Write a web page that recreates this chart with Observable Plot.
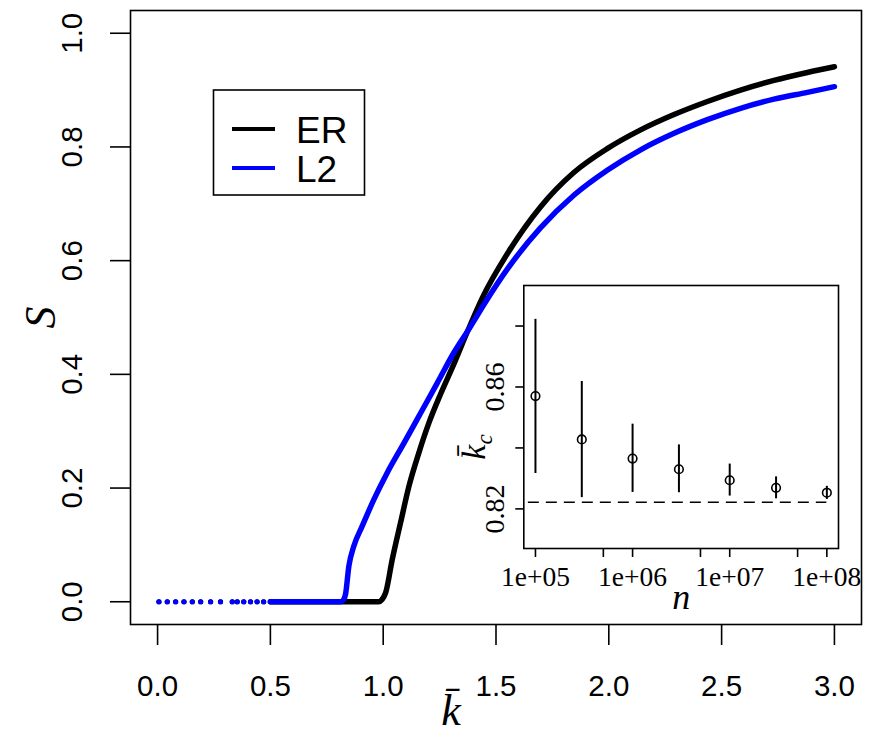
<!DOCTYPE html>
<html><head><meta charset="utf-8">
<script src="https://cdn.jsdelivr.net/npm/d3@7"></script>
<script src="https://cdn.jsdelivr.net/npm/@observablehq/plot@0.6"></script>
<style>
html,body{margin:0;padding:0;background:#fff;}
#wrap{position:relative;width:869px;height:733px;overflow:hidden;}
#wrap > svg{position:absolute;}
</style></head><body><div id="wrap"></div>
<script>
// ---- main chart data ----
const kER = [0.5, 0.98, 0.995, 1.011, 1.04, 1.077, 1.114, 1.158, 1.203, 1.254, 1.313, 1.373, 1.44, 1.55, 1.698, 1.845, 1.993, 2.141, 2.289, 2.437, 2.584, 2.732, 2.88, 3.0];
const sER = [0, 0, 0.004, 0.016, 0.074, 0.139, 0.203, 0.262, 0.315, 0.365, 0.418, 0.475, 0.535, 0.612, 0.695, 0.755, 0.797, 0.83, 0.857, 0.88, 0.9, 0.917, 0.931, 0.941];
const kL2 = [0.5, 0.811, 0.825, 0.833, 0.848, 0.87, 0.907, 0.959, 1.018, 1.092, 1.166, 1.24, 1.313, 1.387, 1.45, 1.55, 1.698, 1.845, 1.993, 2.141, 2.289, 2.437, 2.584, 2.732, 2.88, 3.0];
const sL2 = [0, 0, 0.004, 0.013, 0.063, 0.098, 0.133, 0.18, 0.227, 0.279, 0.332, 0.385, 0.438, 0.484, 0.525, 0.585, 0.658, 0.715, 0.759, 0.795, 0.824, 0.848, 0.868, 0.884, 0.896, 0.906];
const kFlat = [0.006, 0.043, 0.08, 0.117, 0.154, 0.191, 0.235, 0.279, 0.331, 0.353, 0.382, 0.412, 0.441, 0.47];
const sFlat = 0;
const seriesNames = ["ER", "L2"];
const seriesColors = ["black", "blue"];
const xTicks = [0, 0.5, 1, 1.5, 2, 2.5, 3];
const yTicks = [0, 0.2, 0.4, 0.6, 0.8, 1.0];
const kDomain = [-0.12, 3.12];
const sDomain = [-0.04, 1.04];

// ---- inset data ----
const nSizes = [1e5, 3e5, 1e6, 3e6, 1e7, 3e7, 1e8];
const kcMean = [0.857, 0.8428, 0.8365, 0.8330, 0.8294, 0.8269, 0.8253];
const kcLow  = [0.8316, 0.8237, 0.8254, 0.8253, 0.8242, 0.8233, 0.8231];
const kcHigh = [0.8822, 0.8618, 0.8478, 0.8410, 0.8347, 0.8305, 0.8274];
const kcLimit = 0.8222;
const kcLimitSpan = [1e4, 1e8];
const nTicks = [1e5, 5e5, 1e6, 5e6, 1e7, 5e7, 1e8];
const kcTicks = [0.82, 0.84, 0.86, 0.88];
const kcTickLabels = [0.82, 0.86];
const nDomain = [10 ** 4.88, 10 ** 8.12];
const kcDomain = [0.807, 0.8933];

const erData = kER.map((k, i) => ({k, s: sER[i]}));
const l2Data = kL2.map((k, i) => ({k, s: sL2[i]}));
const flatData = kFlat.map(k => ({k, s: sFlat}));
const kcData = nSizes.map((n, i) => ({n, m: kcMean[i], lo: kcLow[i], hi: kcHigh[i]}));

const wrap = document.getElementById("wrap");
const sans = "'Liberation Sans', Arial, Helvetica, sans-serif";
const serif = "'Liberation Serif', 'Times New Roman', serif";

const main = Plot.plot({
  width: 869, height: 733,
  marginLeft: 130, marginRight: 8, marginTop: 10, marginBottom: 109,
  x: {domain: kDomain},
  y: {domain: sDomain},
  style: {fontFamily: sans, background: "transparent", color: "black"},
  marks: [
    Plot.axisX({ticks: xTicks, tickSize: 21, tickPadding: 30, tickFormat: d3.format(".1f"), fontSize: 29.5, label: null, strokeWidth: 1.6}),
    Plot.axisY({ticks: yTicks, tickSize: 20, tickFormat: () => "", label: null, strokeWidth: 1.6}),
    Plot.text(yTicks, {y: d => d, frameAnchor: "left", textAnchor: "middle", dx: -58, rotate: -90, text: d3.format(".1f"), fontSize: 29.5}),
    Plot.dot(flatData, {x: "k", y: "s", r: 2.6, fill: seriesColors[0]}),
    Plot.line(erData, {x: "k", y: "s", stroke: seriesColors[0], strokeWidth: 5.5, curve: "monotone-x"}),
    Plot.dot(flatData, {x: "k", y: "s", r: 2.6, fill: seriesColors[1]}),
    Plot.line(l2Data, {x: "k", y: "s", stroke: seriesColors[1], strokeWidth: 5.5, curve: "monotone-x"}),
    Plot.frame({stroke: "black", strokeWidth: 1.6}),
    Plot.text([{t: "S", y: d3.mean(sDomain)}], {y: "y", text: "t", frameAnchor: "left", textAnchor: "middle", dx: -90, rotate: -90, fontFamily: serif, fontStyle: "italic", fontSize: 44}),
    Plot.text(["k\u0304"], {frameAnchor: "bottom", textAnchor: "middle", dx: -45, dy: 100, fontFamily: serif, fontStyle: "italic", fontSize: 44})
  ]
});
main.style.left = "0px"; main.style.top = "0px";
wrap.appendChild(main);

// legend
const leg = d3.create("svg").attr("width", 869).attr("height", 733).style("left", "0px").style("top", "0px");
leg.append("rect").attr("x", 213.5).attr("y", 90).attr("width", 151).attr("height", 105)
  .attr("fill", "white").attr("stroke", "black").attr("stroke-width", 1.6);
seriesNames.forEach((name, i) => {
  const yy = 129 + i * 39;
  leg.append("line").attr("x1", 232).attr("x2", 275).attr("y1", yy).attr("y2", yy)
    .attr("stroke", seriesColors[i]).attr("stroke-width", 4);
  leg.append("text").attr("x", 296).attr("y", yy + 14).attr("font-family", sans).attr("font-size", 37)
    .attr("fill", "black").text(name);
});
wrap.appendChild(leg.node());

const sup = n => "1e+" + String(Math.round(Math.log10(n))).padStart(2, "0");
const inset = Plot.plot({
  width: 429, height: 355,
  marginLeft: 83.3, marginRight: 31, marginTop: 15, marginBottom: 77,
  x: {type: "log", domain: nDomain},
  y: {domain: kcDomain},
  style: {fontFamily: serif, background: "transparent", color: "black"},
  marks: [
    Plot.frame({fill: "white", stroke: "none"}),
    Plot.axisX({ticks: nTicks, tickSize: 9, tickPadding: 9, fontSize: 27.5, label: null, strokeWidth: 1.6,
      tickFormat: d => Number.isInteger(Math.log10(d)) ? sup(d) : ""}),
    Plot.axisY({ticks: kcTicks, tickSize: 8, tickFormat: () => "", label: null, strokeWidth: 1.6}),
    Plot.text(kcTickLabels, {y: d => d, frameAnchor: "left", textAnchor: "middle", dx: -29, rotate: -90, text: d3.format(".2f"), fontSize: 28}),
    Plot.ruleY([{kc: kcLimit, a: kcLimitSpan[0], b: kcLimitSpan[1]}], {y: "kc", x1: "a", x2: "b", stroke: "black", strokeWidth: 1.6, strokeDasharray: "11,7", clip: true}),
    Plot.ruleX(kcData, {x: "n", y1: "lo", y2: "hi", stroke: "black", strokeWidth: 2}),
    Plot.dot(kcData, {x: "n", y: "m", r: 4.3, stroke: "black", strokeWidth: 1.6, fill: "none"}),
    Plot.frame({stroke: "black", strokeWidth: 1.6}),
    Plot.text(["n"], {frameAnchor: "bottom", textAnchor: "middle", dy: 60, fontStyle: "italic", fontSize: 36}),
    Plot.text([{t: "k\u0304", y: d3.mean(kcDomain)}], {y: "y", text: "t", frameAnchor: "left", textAnchor: "middle", dx: -50, dy: 30, rotate: -90, fontStyle: "italic", fontSize: 34})
  ]
});
inset.style.left = "440px"; inset.style.top = "270px";
wrap.appendChild(inset);
// add subscript c to the inset y label
d3.select(inset).selectAll("text").filter(function() { return this.textContent === "k\u0304"; })
  .each(function() {
    d3.select(this).append("tspan").attr("dy", "0.3em").attr("font-size", 23).text("c");
  });
</script>
</body></html>
